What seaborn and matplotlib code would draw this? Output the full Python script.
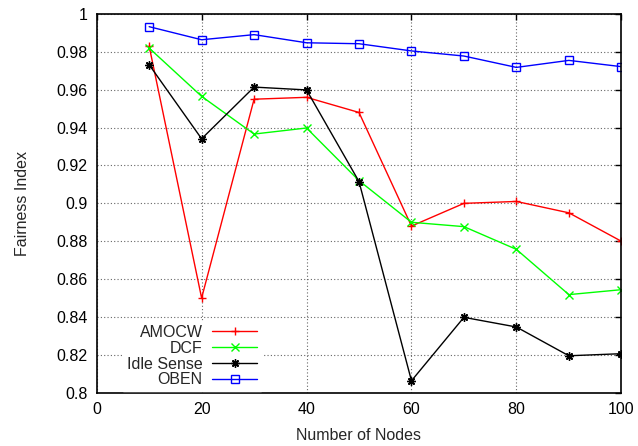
import matplotlib
matplotlib.use("Agg")
import matplotlib.pyplot as plt
import seaborn as sns
import pandas as pd
from matplotlib.ticker import FormatStrFormatter, MultipleLocator

nodes = [10, 20, 30, 40, 50, 60, 70, 80, 90, 100]
amocw = [0.983, 0.850, 0.955, 0.956, 0.948, 0.888, 0.900, 0.901, 0.895, 0.880]
dcf = [0.982, 0.9565, 0.9366, 0.9398, 0.912, 0.890, 0.8877, 0.8757, 0.8518, 0.8544]
idle = [0.9732, 0.9341, 0.9614, 0.9599, 0.9115, 0.8063, 0.8398, 0.8347, 0.8195, 0.8206]
oben = [0.9933, 0.9864, 0.9891, 0.9848, 0.9843, 0.9805, 0.9778, 0.9718, 0.9755, 0.9722]

series = [
    ("AMOCW", amocw, "#ff0000", "+"),
    ("DCF", dcf, "#00ff00", "x"),
    ("Idle Sense", idle, "#000000", (8, 2, 0)),
    ("OBEN", oben, "#0000ff", "s"),
]

sns.set_style("white")
plt.rcParams['font.family'] = ['Liberation Sans', 'DejaVu Sans']

fig = plt.figure(figsize=(6.38, 4.46), dpi=100)
ax = fig.add_axes([96.7 / 638, 1 - 392.7 / 446, (621.3 - 96.7) / 638, (392.7 - 14) / 446])

for name, vals, col, mk in series:
    df = pd.DataFrame({"x": nodes, "y": vals})
    kw = dict(markerfacecolor="none", markeredgecolor=col) if mk == "s" else dict(markeredgecolor=col)
    sns.lineplot(data=df, x="x", y="y", ax=ax, color=col, marker=mk, markersize=6,
                 markeredgewidth=1.0, linewidth=1.0, label=name, **kw)

ax.set_xlim(0, 100)
ax.set_ylim(0.8, 1.0)
ax.xaxis.set_major_locator(MultipleLocator(20))
ax.yaxis.set_major_locator(MultipleLocator(0.02))
ax.yaxis.set_major_formatter(FormatStrFormatter('%g'))
ax.xaxis.set_major_formatter(FormatStrFormatter('%g'))
ax.grid(True, linestyle=(0, (1, 2)), color="#666666", linewidth=0.8)
ax.set_axisbelow(True)
for s in ax.spines.values():
    s.set_visible(True)
    s.set_color("black")
    s.set_linewidth(1.2)
ax.tick_params(direction="in", top=True, right=True, length=4.5, width=1.0,
               labelsize=11.5, colors="black", pad=6.5)
ax.set_xlabel("Number of Nodes", fontsize=11.5, labelpad=8)
ax.set_ylabel("Fairness Index", fontsize=11.5, labelpad=19)

leg = ax.legend(loc="upper right", bbox_to_anchor=(261 / 638, 1 - 321 / 446),
                bbox_transform=fig.transFigure, markerfirst=False, frameon=True,
                fontsize=11.5, handlelength=2.8, handletextpad=0.6, labelspacing=0.05,
                borderpad=0.25, borderaxespad=0, fancybox=False)
leg.get_frame().set_edgecolor("white")
leg.get_frame().set_facecolor("white")
leg.get_frame().set_alpha(1.0)

fig.savefig("out.png", dpi=100)
